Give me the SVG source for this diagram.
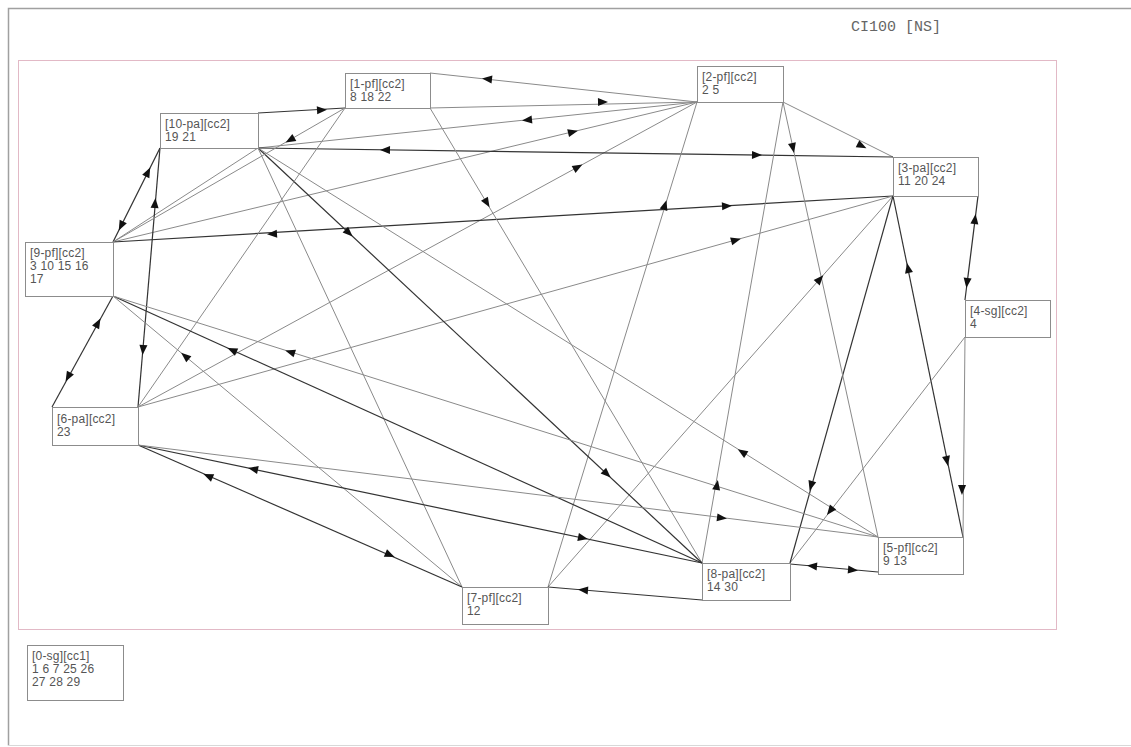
<svg xmlns="http://www.w3.org/2000/svg" xmlns:xlink="http://www.w3.org/1999/xlink" width="1131" height="747" viewBox="0 0 1131 747">
<style>
.frame{fill:none;stroke:#a0a0a0;stroke-width:1.5}
.area{fill:none;stroke:#e2b9c6;stroke-width:1}
.dk{stroke:#333;stroke-width:1.2;fill:none}
.lt{stroke:#8a8a8a;stroke-width:1;fill:none}
.box{fill:#fff;stroke:#8c8c8c;stroke-width:1}
.lbl{font-family:"Liberation Sans",Arial,sans-serif;font-size:12px;fill:#555;letter-spacing:0.2px}
.ttl{font-family:"Liberation Mono","Courier New",monospace;font-size:15px;fill:#666}
.ah{fill:#111}
</style>
<defs>
<path id="ah" d="M5,0 L-5,-4 L-5,4 Z"/>
</defs>
<rect x="0" y="0" width="1131" height="747" fill="#fff"/>
<path class="frame" d="M8.5,745.5 L8.5,8.5 L1131,8.5"/>
<line x1="8" y1="745.5" x2="1131" y2="745.5" stroke="#d8d8d8" stroke-width="1"/>
<text class="ttl" x="851" y="31">CI100 [NS]</text>
<rect class="area" x="18.5" y="60.5" width="1038" height="569"/>
<g id="connectors">
<line class="dk" x1="258" y1="113" x2="345" y2="108"/>
<line class="lt" x1="430" y1="108" x2="697" y2="102"/>
<line class="lt" x1="430" y1="73" x2="697" y2="102"/>
<line class="lt" x1="697" y1="102" x2="258" y2="148"/>
<line class="lt" x1="113" y1="242" x2="697" y2="102"/>
<line class="lt" x1="138" y1="407" x2="697" y2="102"/>
<line class="lt" x1="783" y1="102" x2="893" y2="157"/>
<line class="dk" x1="258" y1="148" x2="893" y2="157"/>
<line class="dk" x1="893" y1="196" x2="113" y2="242"/>
<line class="lt" x1="138" y1="407" x2="893" y2="196"/>
<line class="lt" x1="548" y1="587" x2="893" y2="196"/>
<line class="lt" x1="548" y1="587" x2="697" y2="102"/>
<line class="dk" x1="893" y1="196" x2="963" y2="537"/>
<line class="dk" x1="978" y1="196" x2="965" y2="300"/>
<line class="lt" x1="965" y1="337" x2="963" y2="537"/>
<line class="lt" x1="965" y1="337" x2="790" y2="563"/>
<line class="dk" x1="790" y1="563" x2="893" y2="196"/>
<line class="dk" x1="790" y1="564" x2="878" y2="572"/>
<line class="dk" x1="702" y1="600" x2="548" y2="587"/>
<line class="lt" x1="783" y1="102" x2="878" y2="537"/>
<line class="lt" x1="783" y1="102" x2="702" y2="563"/>
<line class="lt" x1="430" y1="108" x2="702" y2="563"/>
<line class="dk" x1="258" y1="148" x2="702" y2="563"/>
<line class="lt" x1="258" y1="148" x2="878" y2="537"/>
<line class="lt" x1="258" y1="148" x2="462" y2="587"/>
<line class="lt" x1="258" y1="148" x2="113" y2="242"/>
<line class="dk" x1="160" y1="148" x2="113" y2="242"/>
<line class="dk" x1="160" y1="148" x2="138" y2="407"/>
<line class="lt" x1="345" y1="108" x2="113" y2="242"/>
<line class="lt" x1="345" y1="108" x2="138" y2="407"/>
<line class="dk" x1="113" y1="296" x2="52" y2="407"/>
<line class="dk" x1="113" y1="296" x2="702" y2="563"/>
<line class="lt" x1="113" y1="296" x2="878" y2="537"/>
<line class="lt" x1="113" y1="296" x2="462" y2="587"/>
<line class="dk" x1="138" y1="445" x2="462" y2="587"/>
<line class="dk" x1="138" y1="445" x2="702" y2="563"/>
<line class="lt" x1="138" y1="445" x2="878" y2="537"/>
<g class="ah">
<use xlink:href="#ah" transform="translate(322,110) rotate(-3.3)"/>
<use xlink:href="#ah" transform="translate(603,102) rotate(-1.3)"/>
<use xlink:href="#ah" transform="translate(487,79) rotate(186.2)"/>
<use xlink:href="#ah" transform="translate(527,120) rotate(174)"/>
<use xlink:href="#ah" transform="translate(573,132) rotate(-13.5)"/>
<use xlink:href="#ah" transform="translate(578,167) rotate(-28.6)"/>
<use xlink:href="#ah" transform="translate(862,146) rotate(26.6)"/>
<use xlink:href="#ah" transform="translate(385,150) rotate(180.8)"/>
<use xlink:href="#ah" transform="translate(757,155) rotate(0.8)"/>
<use xlink:href="#ah" transform="translate(272,234) rotate(176.6)"/>
<use xlink:href="#ah" transform="translate(727,206) rotate(-3.4)"/>
<use xlink:href="#ah" transform="translate(736,240) rotate(-15.6)"/>
<use xlink:href="#ah" transform="translate(820,279) rotate(-48.6)"/>
<use xlink:href="#ah" transform="translate(665,205) rotate(-72.9)"/>
<use xlink:href="#ah" transform="translate(908,268) rotate(-101.6)"/>
<use xlink:href="#ah" transform="translate(947,461) rotate(78.4)"/>
<use xlink:href="#ah" transform="translate(975,219) rotate(-82.9)"/>
<use xlink:href="#ah" transform="translate(967,283) rotate(97.1)"/>
<use xlink:href="#ah" transform="translate(962,490) rotate(90.6)"/>
<use xlink:href="#ah" transform="translate(830,511) rotate(127.8)"/>
<use xlink:href="#ah" transform="translate(811,486) rotate(105.7)"/>
<use xlink:href="#ah" transform="translate(812,566) rotate(185.2)"/>
<use xlink:href="#ah" transform="translate(853,570) rotate(5.2)"/>
<use xlink:href="#ah" transform="translate(583,590) rotate(184.8)"/>
<use xlink:href="#ah" transform="translate(793,148) rotate(77.7)"/>
<use xlink:href="#ah" transform="translate(717,485) rotate(-80)"/>
<use xlink:href="#ah" transform="translate(487,203) rotate(59.1)"/>
<use xlink:href="#ah" transform="translate(349,233) rotate(43.1)"/>
<use xlink:href="#ah" transform="translate(607,474) rotate(43.1)"/>
<use xlink:href="#ah" transform="translate(742,452) rotate(-147.9)"/>
<use xlink:href="#ah" transform="translate(148,172) rotate(-63.4)"/>
<use xlink:href="#ah" transform="translate(121,226) rotate(116.6)"/>
<use xlink:href="#ah" transform="translate(155,203) rotate(-85.1)"/>
<use xlink:href="#ah" transform="translate(143,350) rotate(94.9)"/>
<use xlink:href="#ah" transform="translate(290,140) rotate(150)"/>
<use xlink:href="#ah" transform="translate(98,323) rotate(-61.2)"/>
<use xlink:href="#ah" transform="translate(68,377) rotate(118.8)"/>
<use xlink:href="#ah" transform="translate(232,350) rotate(-155.6)"/>
<use xlink:href="#ah" transform="translate(290,352) rotate(-162.5)"/>
<use xlink:href="#ah" transform="translate(185,356) rotate(-140.2)"/>
<use xlink:href="#ah" transform="translate(208,476) rotate(-156.3)"/>
<use xlink:href="#ah" transform="translate(390,555) rotate(23.7)"/>
<use xlink:href="#ah" transform="translate(253,469) rotate(191.8)"/>
<use xlink:href="#ah" transform="translate(583,538) rotate(11.8)"/>
<use xlink:href="#ah" transform="translate(722,518) rotate(7.1)"/>
</g>
</g>
<g id="n1"><rect class="box" x="345.5" y="73.5" width="85" height="35"/><text class="lbl" x="350" y="88">[1-pf][cc2]</text><text class="lbl" x="350" y="101">8 18 22</text></g>
<g id="n2"><rect class="box" x="697.5" y="66.5" width="86" height="36"/><text class="lbl" x="702" y="81">[2-pf][cc2]</text><text class="lbl" x="702" y="94">2 5</text></g>
<g id="n10"><rect class="box" x="160.5" y="113.5" width="98" height="35"/><text class="lbl" x="165" y="128">[10-pa][cc2]</text><text class="lbl" x="165" y="141">19 21</text></g>
<g id="n3"><rect class="box" x="893.5" y="157.5" width="85" height="39"/><text class="lbl" x="898" y="172">[3-pa][cc2]</text><text class="lbl" x="898" y="185">11 20 24</text></g>
<g id="n9"><rect class="box" x="25.5" y="242.5" width="88" height="54"/><text class="lbl" x="30" y="257">[9-pf][cc2]</text><text class="lbl" x="30" y="270">3 10 15 16</text><text class="lbl" x="30" y="283">17</text></g>
<g id="n4"><rect class="box" x="965.5" y="300.5" width="85" height="37"/><text class="lbl" x="970" y="315">[4-sg][cc2]</text><text class="lbl" x="970" y="328">4</text></g>
<g id="n6"><rect class="box" x="52.5" y="407.5" width="86" height="38"/><text class="lbl" x="57" y="423">[6-pa][cc2]</text><text class="lbl" x="57" y="436">23</text></g>
<g id="n7"><rect class="box" x="462.5" y="587.5" width="86" height="37"/><text class="lbl" x="467" y="602">[7-pf][cc2]</text><text class="lbl" x="467" y="615">12</text></g>
<g id="n8"><rect class="box" x="702.5" y="563.5" width="88" height="37"/><text class="lbl" x="707" y="578">[8-pa][cc2]</text><text class="lbl" x="707" y="591">14 30</text></g>
<g id="n5"><rect class="box" x="878.5" y="537.5" width="85" height="37"/><text class="lbl" x="883" y="552">[5-pf][cc2]</text><text class="lbl" x="883" y="565">9 13</text></g>
<g id="n0"><rect class="box" x="27.5" y="645.5" width="96" height="55"/><text class="lbl" x="32" y="660">[0-sg][cc1]</text><text class="lbl" x="32" y="673">1 6 7 25 26</text><text class="lbl" x="32" y="686">27 28 29</text></g>
</svg>
